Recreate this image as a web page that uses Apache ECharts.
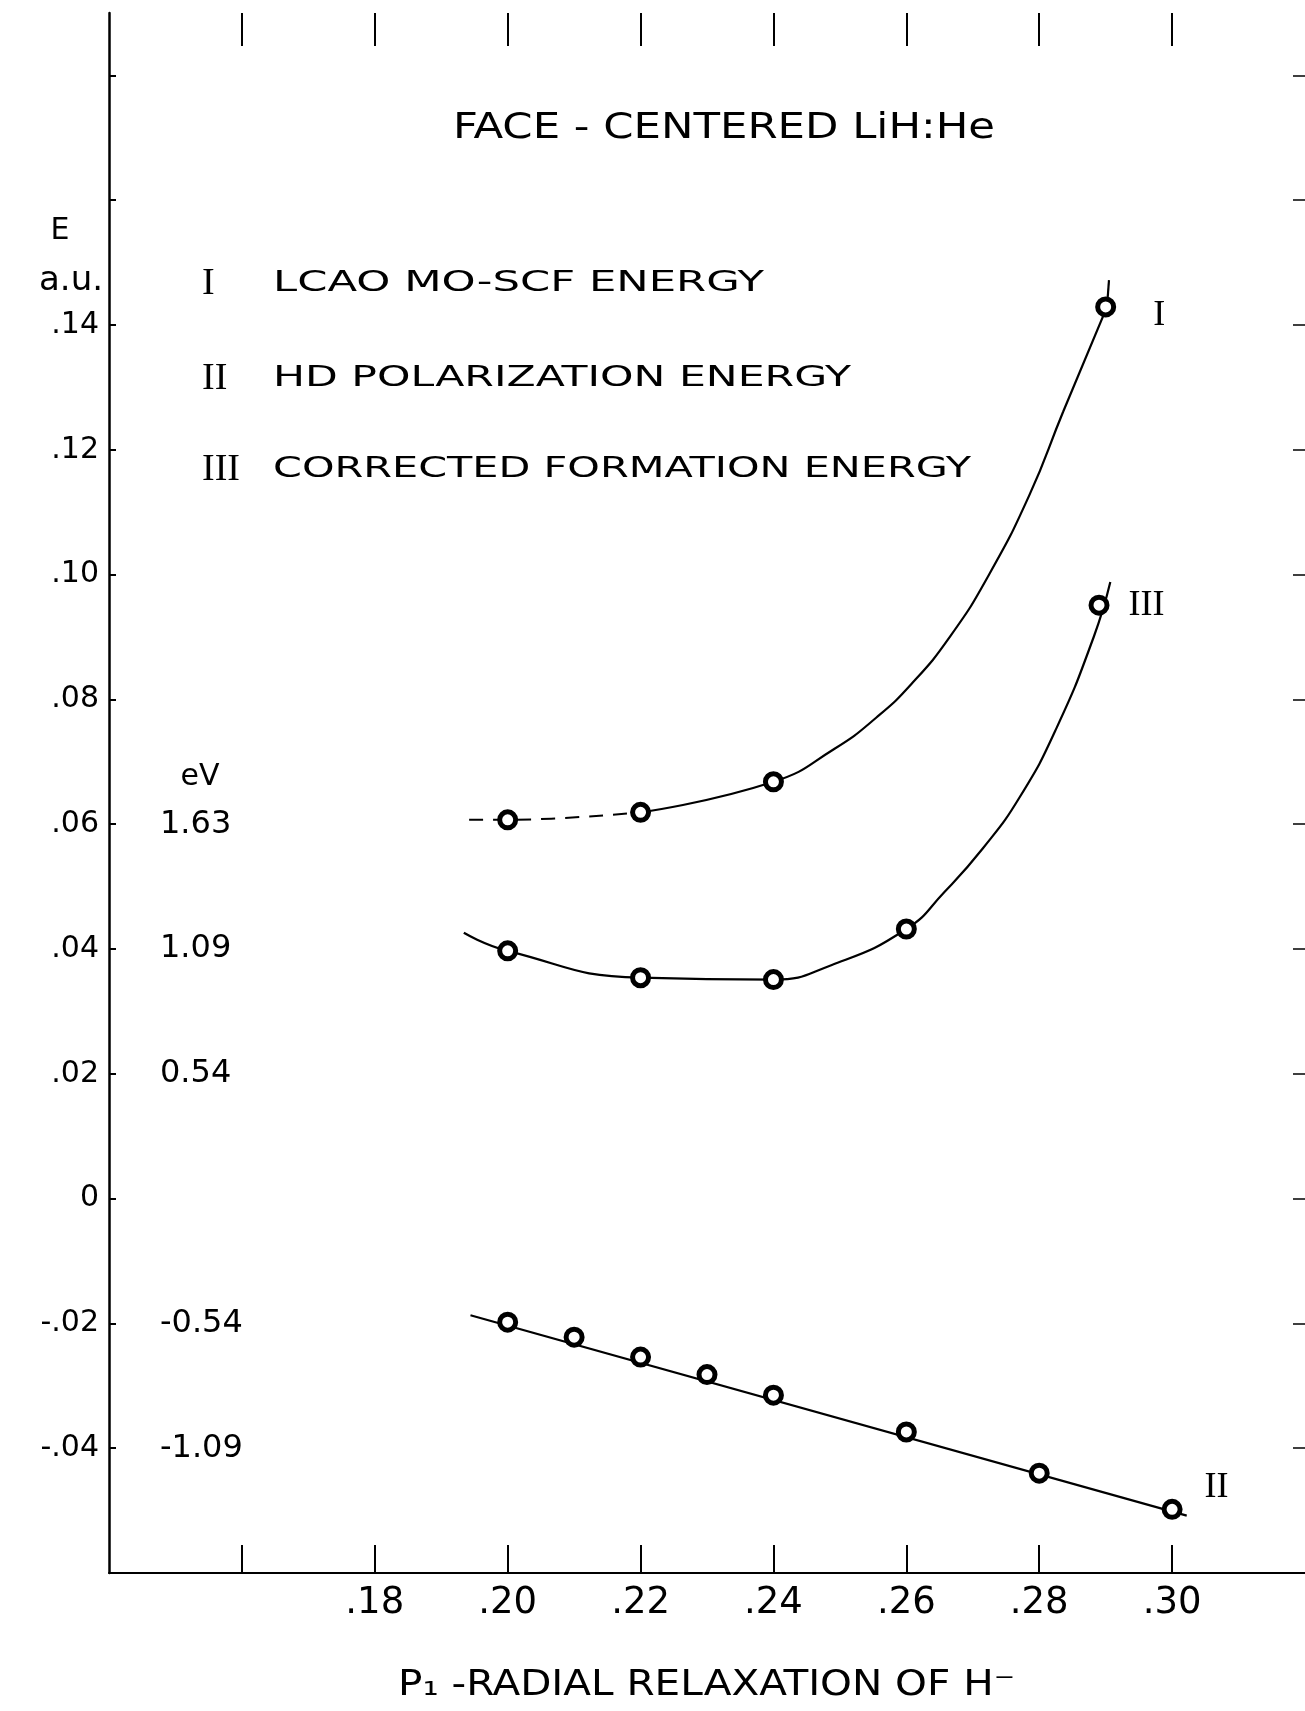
<!DOCTYPE html>
<html>
<head>
<meta charset="utf-8">
<title>Face centered LiH:He</title>
<script src="https://cdn.jsdelivr.net/npm/echarts@6/dist/echarts.min.js"></script>
<style>
  html, body { margin: 0; padding: 0; background: #ffffff; }
  #chart { width: 1305px; height: 1711px; }
</style>
</head>
<body>
<div id="chart"></div>
<script>
// ---------------- data ----------------
// x-axis ticks and labels
const xTickVals  = [0.16, 0.18, 0.20, 0.22, 0.24, 0.26, 0.28, 0.30];
const xLabelVals = [0.18, 0.20, 0.22, 0.24, 0.26, 0.28, 0.30];
const xLabelText = ['.18', '.20', '.22', '.24', '.26', '.28', '.30'];
// y-axis ticks and labels (a.u.)
const yTickVals  = [-0.06, -0.04, -0.02, 0, 0.02, 0.04, 0.06, 0.08, 0.10, 0.12, 0.14, 0.16, 0.18];
const yLabelVals = [-0.04, -0.02, 0, 0.02, 0.04, 0.06, 0.08, 0.10, 0.12, 0.14];
const yLabelText = ['-.04', '-.02', '0', '.02', '.04', '.06', '.08', '.10', '.12', '.14'];
// eV equivalents
const eVVals = [0.06, 0.04, 0.02, -0.02, -0.04];
const eVText = ['1.63', '1.09', '0.54', '-0.54', '-1.09'];

// I  LCAO MO-SCF energy (points)
const xI = [0.20, 0.22, 0.24, 0.29];
const yI = [0.0607, 0.0619, 0.0668, 0.1429];
// II HD polarization energy (points)
const xII = [0.20, 0.21, 0.22, 0.23, 0.24, 0.26, 0.28, 0.30];
const yII = [-0.0198, -0.0222, -0.0254, -0.0282, -0.0315, -0.0374, -0.0440, -0.0498];
// III corrected formation energy (points)
const xIII = [0.20, 0.22, 0.24, 0.26, 0.289];
const yIII = [0.0397, 0.0354, 0.0351, 0.0432, 0.0951];

// hand-drawn fitted curves
const fitIdashX = [0.1942, 0.20, 0.22];
const fitIdashY = [0.0607, 0.0607, 0.0619];
const fitIX = [0.22, 0.24, 0.2492, 0.2555, 0.2608, 0.2666, 0.2724, 0.2785, 0.2836, 0.2902];
const fitIY = [0.0619, 0.0668, 0.0721, 0.0771, 0.0825, 0.0901, 0.0999, 0.1127, 0.1261, 0.1429];
const fitItipX = [0.2902, 0.2905];
const fitItipY = [0.1429, 0.1472];
const fitIIIX = [0.1934, 0.20, 0.22, 0.24, 0.2487, 0.26, 0.2657, 0.2715, 0.2771, 0.2826, 0.2882, 0.2907];
const fitIIIY = [0.0426, 0.0397, 0.0354, 0.0351, 0.0374, 0.0432, 0.0491, 0.0561, 0.0644, 0.0754, 0.0900, 0.0988];
const fitIIX = [0.1944, 0.3022];
const fitIIY = [-0.0187, -0.0508];

// ---------------- helpers ----------------
const zip = (xs, ys) => xs.map((x, i) => [x, ys[i]]);
const lookup = (vals, texts) => (v) => {
  for (let i = 0; i < vals.length; i++) if (Math.abs(vals[i] - v) < 1e-9) return texts[i];
  return '';
};
const measureCtx = document.createElement('canvas').getContext('2d');
function fitScale(text, font, width) {
  measureCtx.font = font;
  const w = measureCtx.measureText(text).width;
  return w > 0 ? width / w : 1;
}
function stretchedText(text, font, left, width, cy) {
  return {
    type: 'text', x: left, y: cy, scaleX: fitScale(text, font, width), silent: true,
    style: { text: text, font: font, fill: '#000', textAlign: 'left', textVerticalAlign: 'middle' }
  };
}
function plainText(text, font, x, cy, align) {
  return {
    type: 'text', x: x, y: cy, silent: true,
    style: { text: text, font: font, fill: '#000', textAlign: align || 'left', textVerticalAlign: 'middle' }
  };
}

const SANS = '"DejaVu Sans", "Liberation Sans", sans-serif';
const COND = '"DejaVu Sans Condensed", "Liberation Sans Narrow", "DejaVu Sans", sans-serif';
const SERIF = '"Liberation Serif", "DejaVu Serif", serif';

const markerStyle = { color: '#ffffff', borderColor: '#000000', borderWidth: 5, opacity: 1 };
function pointData(xs, ys, lastLabel) {
  const d = zip(xs, ys).map(p => ({ value: p }));
  d[d.length - 1].label = Object.assign({
    show: true, position: 'right', color: '#000', fontFamily: SERIF, fontSize: 36
  }, lastLabel);
  return d;
}

const chart = echarts.init(document.getElementById('chart'), null, { renderer: 'canvas' });

const option = {
  backgroundColor: '#ffffff',
  animation: false,
  grid: { left: 109, top: 13, width: 1199, height: 1560, containLabel: false },
  xAxis: [
    {
      type: 'value', position: 'bottom', min: 0.14, max: 0.32, interval: 0.02,
      axisLine: { show: true, onZero: false, lineStyle: { color: '#000', width: 2 } },
      axisTick: { show: true, inside: true, length: 28, customValues: xTickVals, lineStyle: { color: '#000', width: 2 } },
      axisLabel: { show: true, customValues: xLabelVals, formatter: lookup(xLabelVals, xLabelText),
                   margin: 12, color: '#000', fontFamily: SANS, fontSize: 37 },
      splitLine: { show: false }
    },
    {
      type: 'value', position: 'top', min: 0.14, max: 0.32, interval: 0.02,
      axisLine: { show: false, onZero: false },
      axisTick: { show: true, inside: true, length: 33, customValues: xTickVals, lineStyle: { color: '#000', width: 2 } },
      axisLabel: { show: false },
      splitLine: { show: false }
    }
  ],
  yAxis: [
    {
      type: 'value', position: 'left', min: -0.06, max: 0.19, interval: 0.02,
      axisLine: { show: true, onZero: false, lineStyle: { color: '#000', width: 2.5 } },
      axisTick: { show: true, inside: true, length: 7, customValues: yTickVals, lineStyle: { color: '#000', width: 2 } },
      axisLabel: { show: true, customValues: yLabelVals, formatter: lookup(yLabelVals, yLabelText),
                   margin: 10, color: '#000', fontFamily: SANS, fontSize: 30 },
      splitLine: { show: false }
    },
    {
      type: 'value', position: 'left', offset: -41, min: -0.06, max: 0.19, interval: 0.02,
      axisLine: { show: false, onZero: false },
      axisTick: { show: false },
      axisLabel: { show: true, inside: true, customValues: eVVals, formatter: lookup(eVVals, eVText),
                   margin: 10, color: '#000', fontFamily: SANS, fontSize: 32 },
      splitLine: { show: false }
    },
    {
      type: 'value', position: 'right', min: -0.06, max: 0.19, interval: 0.02,
      axisLine: { show: false, onZero: false },
      axisTick: { show: true, inside: true, length: 12, customValues: yTickVals, lineStyle: { color: '#000', width: 1.5 } },
      axisLabel: { show: false },
      splitLine: { show: false }
    }
  ],
  series: [
    {
      name: 'I dashed', type: 'line', data: zip(fitIdashX, fitIdashY), showSymbol: false, smooth: 0.4,
      lineStyle: { color: '#000', width: 2, type: [14, 10] }, z: 2
    },
    {
      name: 'I fit', type: 'line', data: zip(fitIX, fitIY), showSymbol: false, smooth: 0.5,
      lineStyle: { color: '#000', width: 2.2 }, z: 2
    },
    {
      name: 'I tip', type: 'line', data: zip(fitItipX, fitItipY), showSymbol: false,
      lineStyle: { color: '#000', width: 2.2 }, z: 2
    },
    {
      name: 'III fit', type: 'line', data: zip(fitIIIX, fitIIIY), showSymbol: false, smooth: 0.5,
      lineStyle: { color: '#000', width: 2.2 }, z: 2
    },
    {
      name: 'II fit', type: 'line', data: zip(fitIIX, fitIIY), showSymbol: false,
      lineStyle: { color: '#000', width: 2.2 }, z: 2
    },
    {
      name: 'I  LCAO MO-SCF ENERGY', type: 'scatter', symbol: 'circle', symbolSize: 16,
      itemStyle: markerStyle, z: 5,
      data: pointData(xI, yI, { formatter: 'I', distance: 37, offset: [0, 9] })
    },
    {
      name: 'II HD POLARIZATION ENERGY', type: 'scatter', symbol: 'circle', symbolSize: 16,
      itemStyle: markerStyle, z: 5,
      data: pointData(xII, yII, { formatter: 'II', distance: 22, offset: [0, -22] })
    },
    {
      name: 'III CORRECTED FORMATION ENERGY', type: 'scatter', symbol: 'circle', symbolSize: 16,
      itemStyle: markerStyle, z: 5,
      data: pointData(xIII, yIII, { formatter: 'III', distance: 19, offset: [0, 0] })
    }
  ],
  graphic: [
    stretchedText('FACE - CENTERED LiH:He', '36px ' + COND, 453, 542, 129),
    plainText('E', '30px ' + SANS, 60, 231, 'center'),
    plainText('a.u.', '34px ' + SANS, 103, 281, 'right'),
    plainText('eV', '30px ' + SANS, 200, 777, 'center'),
    plainText('I', '38px ' + SERIF, 202, 284, 'left'),
    stretchedText('LCAO MO-SCF ENERGY', '28px ' + SANS, 273, 491, 284),
    plainText('II', '38px ' + SERIF, 202, 379, 'left'),
    stretchedText('HD POLARIZATION ENERGY', '28px ' + SANS, 273, 578, 379),
    plainText('III', '38px ' + SERIF, 202, 470, 'left'),
    stretchedText('CORRECTED FORMATION ENERGY', '28px ' + SANS, 273, 698, 470),
    stretchedText('P\u2081 -RADIAL RELAXATION OF H\u207B', '36px ' + COND, 398, 617, 1686)
  ]
};
chart.setOption(option);
</script>
</body>
</html>
